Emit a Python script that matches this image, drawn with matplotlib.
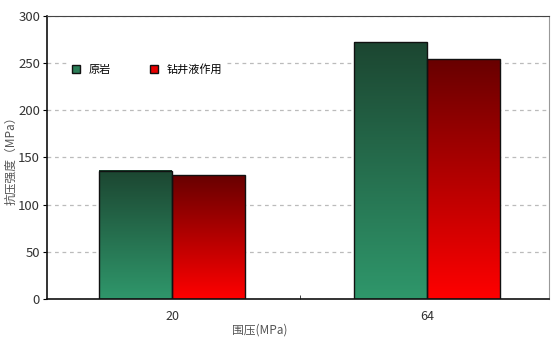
import numpy as np
import matplotlib.pyplot as plt
from matplotlib.colors import LinearSegmentedColormap
from matplotlib.patches import Patch

plt.rcParams['font.family'] = ['Noto Sans CJK SC', 'DejaVu Sans']

# data
pressures = ["20", "64"]
series_names = ["原岩", "钻井液作用"]
raw_rock = [136, 272]
after_fluid = [131, 254]

green_cmap = LinearSegmentedColormap.from_list("g", ["#2f976b", "#1c4631"])
red_cmap = LinearSegmentedColormap.from_list("r", ["#ff0000", "#680000"])

fig = plt.figure(figsize=(5.51, 3.43), dpi=100)
ax = fig.add_axes([0.0853, 0.1283, 0.9111, 0.8251])

x = np.arange(len(pressures))
w = 0.286
grad = np.linspace(0, 1, 256).reshape(-1, 1)

for vals, cmap, off in [(raw_rock, green_cmap, -w / 2), (after_fluid, red_cmap, w / 2)]:
    for xi, v in zip(x, vals):
        l, r = xi + off - w / 2, xi + off + w / 2
        ax.imshow(grad, cmap=cmap, extent=[l, r, 0, v], origin="lower",
                  aspect="auto", zorder=2, interpolation="bicubic")
        ax.add_patch(plt.Rectangle((l, 0), w, v, fill=False, ec="#111111",
                                   lw=1.0, zorder=3))

ax.set_xlim(-0.49, 1.478)
ax.set_ylim(0, 300)
ax.set_yticks(range(0, 301, 50))
ax.set_xticks(x)
ax.set_xticklabels(pressures)
ax.set_xticks([0.5], minor=True)
ax.tick_params(axis="x", which="minor", direction="in", length=3, color="#222")
ax.tick_params(axis="x", which="major", length=0, pad=8, labelsize=9, labelcolor="#333")
ax.tick_params(axis="y", length=3, labelsize=9.5, labelcolor="#333", pad=2)

ax.yaxis.grid(True, ls=(0, (3, 3)), color="#bbbbbb", lw=0.9, zorder=0)
ax.set_axisbelow(True)
for s in ["left", "bottom"]:
    ax.spines[s].set_color("#111")
    ax.spines[s].set_linewidth(1.2)
ax.spines["top"].set_color("#444")
ax.spines["right"].set_color("#999")

handles = [Patch(fc="#2a7d57", ec="#111", lw=1.0),
           Patch(fc="#e80000", ec="#111", lw=1.0)]
ax.legend(handles, series_names, ncol=2, loc="center left", bbox_to_anchor=(0.03, 0.81),
          frameon=True, facecolor="white", edgecolor="none", framealpha=1,
          fontsize=8, handlelength=0.7, handleheight=0.7, columnspacing=3.6,
          handletextpad=0.75, borderpad=0.4)

ax.set_ylabel("抗压强度（MPa）", fontsize=8.5, color="#555")
ax.yaxis.set_label_coords(-0.06, 0.5)
ax.set_xlabel("围压(MPa)", fontsize=8.5, color="#555")
ax.xaxis.set_label_coords(0.424, -0.085)

plt.savefig("out.png", dpi=100)
